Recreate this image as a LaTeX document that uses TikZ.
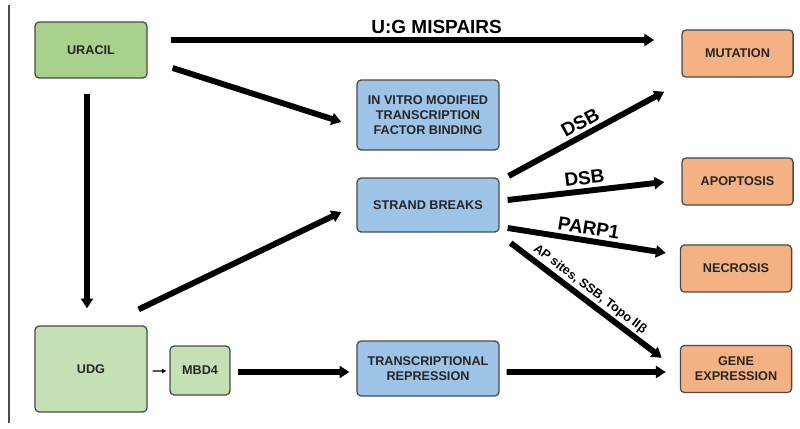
\documentclass[tikz,border=0pt]{standalone}
\usepackage{fontspec}
\setmainfont{Liberation Sans}
\usetikzlibrary{arrows.meta}
\definecolor{uracilgreen}{HTML}{A9D18E}
\definecolor{udggreen}{HTML}{C5E0B4}
\definecolor{procblue}{HTML}{9DC3E6}
\definecolor{outorange}{HTML}{F4B183}
\definecolor{boxline}{HTML}{4A4A4A}
\definecolor{boxtext}{HTML}{262626}
\begin{document}
\begin{tikzpicture}[x=0.025cm,y=-0.025cm,
  box/.style={rectangle, rounded corners=3pt, draw=boxline, line width=0.9pt,
    align=center, inner sep=1pt, text=boxtext,
    font=\fontsize{9}{10.7}\selectfont\bfseries},
  srcbox/.style={box, fill=uracilgreen, minimum width=2.8cm},
  procbox/.style={box, fill=procblue, minimum width=3.55cm},
  outbox/.style={box, fill=outorange, minimum width=2.78cm, minimum height=1.18cm},
  bigarrow/.style={-{Triangle[length=7pt,width=8.5pt]}, line width=4.2pt},
  lbl/.style={font=\fontsize{13.5}{14}\selectfont\bfseries, inner sep=2.5pt}]
\useasboundingbox (0,0) rectangle (800,428);
\draw[line width=2pt, black!70] (9,5) -- (9,423);

% sources
\node (uracil)[srcbox, minimum height=1.4cm] at (91,50) {URACIL};
\node (udg)[srcbox, fill=udggreen, minimum height=2.15cm] at (91,369) {UDG};
\node (mbd4)[box, fill=udggreen, minimum width=1.5cm, minimum height=1.225cm] at (200,370.5) {MBD4};

% intermediate
\node (invitro)[procbox, minimum height=1.75cm] at (428,115) {IN VITRO MODIFIED\\TRANSCRIPTION\\FACTOR BINDING};
\node (strand)[procbox, minimum height=1.35cm] at (428,205) {STRAND BREAKS};
\node (trans)[procbox, minimum height=1.375cm] at (428,368.5) {TRANSCRIPTIONAL\\REPRESSION};

% outcomes
\node (mutation)[outbox] at (737.5,53.5) {MUTATION};
\node (apoptosis)[outbox] at (737.5,181.5) {APOPTOSIS};
\node (necrosis)[outbox] at (736,268.5) {NECROSIS};
\node (gene)[outbox] at (736,369) {GENE\\EXPRESSION};

\draw[bigarrow] ([shift={(23,-10)}]uracil.east) -- node[lbl, above, pos=0.55]{U:G MISPAIRS} ([shift={(-27,-13.5)}]mutation.west);
\draw[bigarrow] ([shift={(25,18)}]uracil.east) -- ([shift={(-15,7)}]invitro.west);
\draw[bigarrow] ([shift={(-4,15)}]uracil.south) -- ([shift={(-4,-17)}]udg.north);
\draw[bigarrow] ([shift={(-9,-16)}]udg.north east) -- ([shift={(-15,7)}]strand.west);
\draw[-{Triangle[length=3pt,width=3pt]}, line width=0.8pt] ([shift={(5,2)}]udg.east) -- ([shift={(-3,0.5)}]mbd4.west);
\draw[bigarrow] ([shift={(7,1.5)}]mbd4.east) -- ([shift={(-7,3.5)}]trans.west);
\draw[bigarrow] ([shift={(7,3.5)}]trans.east) -- ([shift={(-14,3)}]gene.west);

\draw[bigarrow] ([shift={(9,-29)}]strand.east) -- node[lbl, above, sloped]{DSB} ([shift={(-17,14)}]mutation.south west);
\draw[bigarrow] ([shift={(8,-5)}]strand.east) -- node[lbl, above, sloped]{DSB} ([shift={(-17,0.5)}]apoptosis.west);
\draw[bigarrow] ([shift={(8,23)}]strand.east) -- node[lbl, above, sloped]{PARP1} ([shift={(-14,-15.5)}]necrosis.west);
\draw[bigarrow] ([shift={(11,38)}]strand.east) -- node[above, sloped, pos=0.48, inner sep=1.5pt, font=\fontsize{9}{10}\selectfont\bfseries]{AP sites, SSB, Topo IIβ} ([shift={(-18,13)}]gene.north west);
\end{tikzpicture}
\end{document}
